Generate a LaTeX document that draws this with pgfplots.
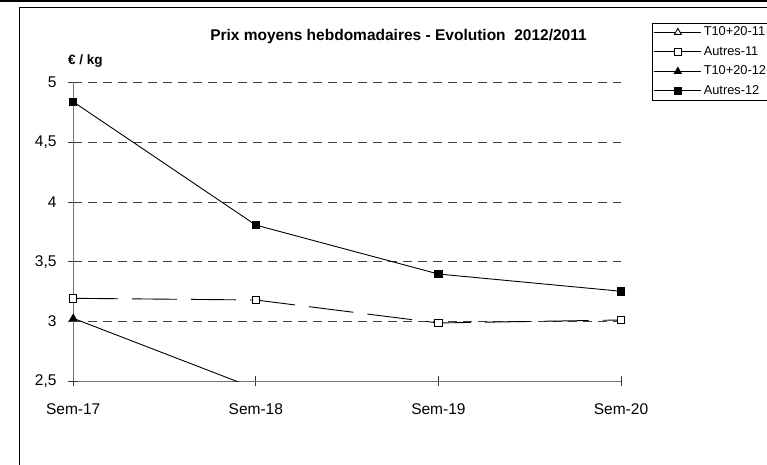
\documentclass[border=0pt]{standalone}
\usepackage{pgfplots}
\pgfplotsset{compat=1.18}
\usepackage{fontspec}
\setmainfont{Liberation Sans}
\begin{document}
\begin{tikzpicture}[x=1pt,y=1pt]
\useasboundingbox (0,0) rectangle (767,465);
\clip (0,0) rectangle (767,465);
\draw[line width=2pt] (0,464) -- (767,464);
\draw[line width=0.9pt] (19,-5) -- (19,458) -- (780,458);
\node[font=\bfseries\fontsize{15.5}{18}\selectfont, anchor=base] at (398.5,424) {Prix moyens hebdomadaires - Evolution~~2012/2011};
\node[font=\bfseries\fontsize{13.5}{16}\selectfont, anchor=base west, inner sep=0pt] at (68,400) {€ / kg};
\begin{axis}[
  at={(73.2pt,83.5pt)}, anchor=south west,
  scale only axis, width=547.8pt, height=299.2pt,
  xmin=0, xmax=3, ymin=2.5, ymax=5,
  axis x line*=bottom, axis y line*=left,
  axis line style={-, line width=1pt, draw=black!55},
  xtick={0,1,2,3}, xticklabels={Sem-17,Sem-18,Sem-19,Sem-20},
  ytick={3,3.5,4,4.5,5}, yticklabels={3,{3,5},4,{4,5},5},
  extra y ticks={2.5}, extra y tick labels={2{,}5},
  extra y tick style={grid=none},
  tick align=center, major tick length=10pt,
  tick style={black!80, line width=0.8pt},
  tick label style={font=\fontsize{15.5}{18}\selectfont},
  yticklabel style={anchor=east, inner sep=0pt, xshift=-11.5pt},
  xticklabel style={anchor=north, inner sep=0pt, yshift=-16.8pt},
  ymajorgrids,
  grid style={dash pattern=on 9pt off 6pt, black!75, line width=0.8pt},
  legend image code/.code={\draw[#1, solid, mark indices={2}] plot coordinates {(0pt,0pt) (23.5pt,0pt) (47pt,0pt)};},
  legend style={at={(axis description cs:1.0566,1.1992)}, anchor=north west,
    draw=black, line width=0.8pt, font=\fontsize{12.8}{15}\selectfont,
    inner xsep=1.5pt, inner ysep=1.8pt, row sep=4.5pt,
    nodes={inner sep=2pt, text height=9pt, text depth=2pt}},
  legend cell align=left,
]
\addlegendimage{black, line width=0.9pt, mark=triangle*, mark size=4pt, mark options={solid, fill=white}}
\addlegendentry{T10+20-11}
\addplot[black, line width=0.9pt, dash pattern=on 45pt off 14pt, mark=square*, mark size=3.7pt, mark options={solid, fill=white}]
  coordinates {(0,3.195) (1,3.181) (2,2.989) (3,3.014)};
\addlegendentry{Autres-11}
\addplot[black, line width=0.9pt, mark=triangle*, mark size=4pt, mark indices={1}, mark options={solid, fill=black}]
  coordinates {(0,3.028) (1,2.44)};
\addlegendentry{T10+20-12}
\addplot[black, line width=0.9pt, mark=square*, mark size=3.7pt, mark options={solid, fill=black}]
  coordinates {(0,4.837) (1,3.807) (2,3.398) (3,3.254)};
\addlegendentry{Autres-12}
\end{axis}
\end{tikzpicture}
\end{document}
